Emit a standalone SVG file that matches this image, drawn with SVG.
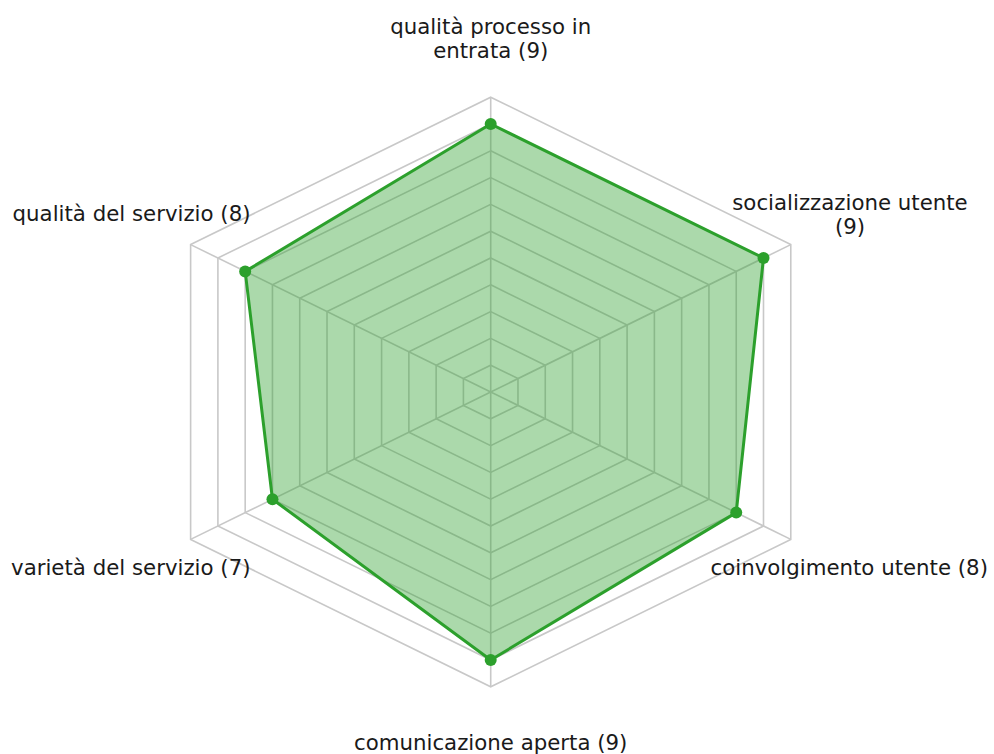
<svg xmlns="http://www.w3.org/2000/svg" width="994" height="754" viewBox="0 0 994 754">
<style>
.grid{fill:none;stroke:#c8c8c8;stroke-width:1.6}
.lbl{font-family:"DejaVu Sans",sans-serif;font-size:21.3px;fill:#1a1a1a}
.data{fill:#2ca02c;fill-opacity:0.4;stroke:#2ca02c;stroke-width:3;stroke-linejoin:round}
.pt{fill:#2ca02c}
</style>
<rect width="994" height="754" fill="#ffffff"/>
<g id="grid">
<polygon class="grid" points="490.7,365.2 517.98,378.6 517.98,405.4 490.7,418.8 463.42,405.4 463.42,378.6"/>
<polygon class="grid" points="490.7,338.4 545.26,365.2 545.26,418.8 490.7,445.6 436.14,418.8 436.14,365.2"/>
<polygon class="grid" points="490.7,311.6 572.54,351.8 572.54,432.2 490.7,472.4 408.86,432.2 408.86,351.8"/>
<polygon class="grid" points="490.7,284.8 599.82,338.4 599.82,445.6 490.7,499.2 381.58,445.6 381.58,338.4"/>
<polygon class="grid" points="490.7,258 627.1,325 627.1,459 490.7,526 354.3,459 354.3,325"/>
<polygon class="grid" points="490.7,231.2 654.38,311.6 654.38,472.4 490.7,552.8 327.02,472.4 327.02,311.6"/>
<polygon class="grid" points="490.7,204.4 681.66,298.2 681.66,485.8 490.7,579.6 299.74,485.8 299.74,298.2"/>
<polygon class="grid" points="490.7,177.6 708.94,284.8 708.94,499.2 490.7,606.4 272.46,499.2 272.46,284.8"/>
<polygon class="grid" points="490.7,150.8 736.22,271.4 736.22,512.6 490.7,633.2 245.18,512.6 245.18,271.4"/>
<polygon class="grid" points="490.7,124 763.5,258 763.5,526 490.7,660 217.9,526 217.9,258"/>
<polygon class="grid" points="490.7,97.2 790.78,244.6 790.78,539.4 490.7,686.8 190.62,539.4 190.62,244.6"/>
<line class="grid" x1="490.7" y1="392" x2="490.7" y2="97.2"/>
<line class="grid" x1="490.7" y1="392" x2="790.78" y2="244.6"/>
<line class="grid" x1="490.7" y1="392" x2="790.78" y2="539.4"/>
<line class="grid" x1="490.7" y1="392" x2="490.7" y2="686.8"/>
<line class="grid" x1="490.7" y1="392" x2="190.62" y2="539.4"/>
<line class="grid" x1="490.7" y1="392" x2="190.62" y2="244.6"/>
</g>
<g id="data">
<polygon class="data" points="490.7,124 763.5,258 736.22,512.6 490.7,660 272.46,499.2 245.18,271.4"/>
<circle class="pt" cx="490.7" cy="124" r="6"/>
<circle class="pt" cx="763.5" cy="258" r="6"/>
<circle class="pt" cx="736.22" cy="512.6" r="6"/>
<circle class="pt" cx="490.7" cy="660" r="6"/>
<circle class="pt" cx="272.46" cy="499.2" r="6"/>
<circle class="pt" cx="245.18" cy="271.4" r="6"/>
</g>
<g id="labels">
<text class="lbl" x="490.7" y="34" text-anchor="middle">qualità processo in</text>
<text class="lbl" x="490.7" y="58" text-anchor="middle">entrata (9)</text>
<text class="lbl" x="850" y="210" text-anchor="middle">socializzazione utente</text>
<text class="lbl" x="850" y="234" text-anchor="middle">(9)</text>
<text class="lbl" x="710.5" y="575" text-anchor="start">coinvolgimento utente (8)</text>
<text class="lbl" x="490.7" y="750" text-anchor="middle">comunicazione aperta (9)</text>
<text class="lbl" x="250.5" y="575" text-anchor="end">varietà del servizio (7)</text>
<text class="lbl" x="250.5" y="221" text-anchor="end">qualità del servizio (8)</text>
</g>
</svg>
